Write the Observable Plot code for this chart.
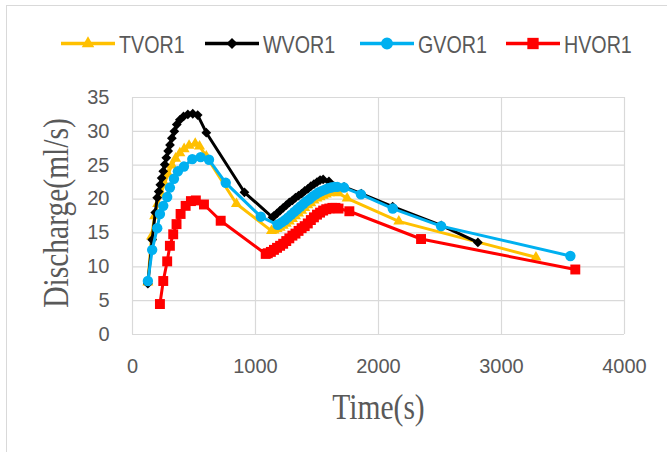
<!DOCTYPE html>
<html><head><meta charset="utf-8">
<script src="https://cdn.jsdelivr.net/npm/d3@7"></script>
<script src="https://cdn.jsdelivr.net/npm/@observablehq/plot@0.6"></script>
<style>
body{margin:0;background:#fff;}
#wrap{position:relative;width:667px;height:452px;overflow:hidden;background:#fff;}
#chart{position:absolute;left:0;top:0;}
#frame{position:absolute;left:6px;top:5px;width:700px;height:500px;border-left:1px solid #d9d9d9;border-top:1px solid #d9d9d9;pointer-events:none;}
#legend{position:absolute;left:0;top:0;}
</style></head><body>
<div id="wrap"><div id="chart"></div><div id="frame"></div><svg id="legend" width="667" height="80"></svg></div>
<script>
// ---- data ----
const seriesNames = ["TVOR1", "WVOR1", "GVOR1", "HVOR1"];
const seriesColors = ["#FFC000", "#000000", "#00B0F0", "#FF0000"];
const seriesSymbols = ["triangle", "diamond2", "circle", "square"];
const xTicks = [0, 1000, 2000, 3000, 4000];
const yTicks = [0, 5, 10, 15, 20, 25, 30, 35];
const xTitle = "Time(s)";
const yTitle = "Discharge(ml/s)";

const tvorTime = [125, 155, 180, 205, 232, 260, 290, 320, 350, 385, 420, 460, 510, 545, 600, 845, 1130, 1150, 1175, 1200, 1225, 1250, 1275, 1300, 1325, 1350, 1375, 1400, 1425, 1450, 1475, 1500, 1525, 1550, 1575, 1600, 1625, 1650, 1675, 1745, 2165, 3280];
const tvorQ = [7.7, 14.5, 17.5, 19.3, 20.8, 22.3, 23.7, 25.0, 26.0, 26.8, 27.4, 27.9, 28.2, 27.8, 26.3, 19.3, 15.3, 15.4, 15.6, 15.8, 16.1, 16.4, 16.7, 17.1, 17.5, 17.9, 18.3, 18.7, 19.1, 19.4, 19.8, 20.1, 20.3, 20.5, 20.7, 20.9, 21.0, 21.0, 20.9, 20.1, 16.7, 11.4];

const wvorTime = [125, 160, 185, 201, 213, 226, 237, 250, 262, 275, 290, 305, 320, 340, 360, 385, 415, 450, 490, 530, 600, 910, 1138, 1150, 1175, 1200, 1225, 1250, 1275, 1300, 1325, 1350, 1375, 1400, 1425, 1450, 1475, 1500, 1525, 1550, 1597, 1720, 1860, 2115, 2510, 2808];
const wvorQ = [7.5, 14.0, 18.0, 20.2, 21.1, 22.1, 23.1, 24.1, 25.1, 26.1, 27.1, 28.0, 29.0, 30.0, 31.0, 31.7, 32.2, 32.5, 32.6, 32.4, 29.8, 21.0, 17.3, 17.5, 17.9, 18.3, 18.7, 19.1, 19.5, 19.8, 20.2, 20.5, 20.8, 21.2, 21.5, 21.9, 22.2, 22.5, 22.8, 22.9, 22.6, 21.8, 20.8, 18.9, 16.1, 13.6];

const gvorTime = [125, 160, 201, 223, 250, 282, 304, 337, 369, 418, 486, 554, 622, 758, 1043, 1179, 1190, 1215, 1240, 1265, 1290, 1315, 1340, 1365, 1390, 1415, 1440, 1465, 1490, 1515, 1540, 1565, 1590, 1615, 1640, 1665, 1720, 1857, 2116, 2509, 3560];
const gvorQ = [7.9, 12.5, 15.7, 17.8, 19.0, 20.3, 21.7, 23.0, 24.1, 24.8, 25.9, 26.2, 25.8, 22.4, 17.4, 16.2, 16.3, 16.6, 16.9, 17.3, 17.7, 18.1, 18.5, 18.9, 19.3, 19.7, 20.0, 20.4, 20.7, 21.0, 21.2, 21.4, 21.6, 21.7, 21.8, 21.8, 21.7, 20.7, 18.6, 16.0, 11.6];

const hvorTime = [223, 250, 282, 304, 331, 358, 391, 432, 475, 515, 581, 717, 1083, 1100, 1125, 1150, 1175, 1200, 1225, 1250, 1275, 1300, 1325, 1350, 1375, 1400, 1425, 1450, 1475, 1500, 1525, 1550, 1575, 1600, 1625, 1650, 1675, 1763, 2346, 3600];
const hvorQ = [4.5, 7.9, 10.8, 13.1, 14.8, 16.3, 17.8, 19.0, 19.7, 19.8, 19.2, 16.8, 11.9, 12.0, 12.2, 12.5, 12.8, 13.1, 13.4, 13.8, 14.2, 14.6, 14.9, 15.3, 15.7, 16.0, 16.4, 16.9, 17.3, 17.7, 18.0, 18.3, 18.5, 18.6, 18.7, 18.7, 18.6, 18.2, 14.1, 9.6];

const seriesTimes = [tvorTime, wvorTime, gvorTime, hvorTime];
const seriesValues = [tvorQ, wvorQ, gvorQ, hvorQ];

// ---- styling / layout ----
const symbolR = [4.1, 4.4, 5.2, 5.6];
const lineWidth = 3;
const textGray = "#595959";
const gridGray = "#d9d9d9";
const legendX = [61, 205, 360, 506];
const legendLineLen = 54;
const legendY = 43.5;
const narrow = 0.82;   // condensed look of the original fonts
const titleSize = 36;

const rows = seriesNames.map((name, i) =>
  seriesTimes[i].map((t, j) => ({series: name, time: t, q: seriesValues[i][j]}))
);

const seriesMarks = [];
rows.forEach((data, i) => {
  seriesMarks.push(Plot.line(data, {x: "time", y: "q", stroke: seriesColors[i], strokeWidth: lineWidth, strokeLinejoin: "round"}));
  seriesMarks.push(Plot.dot(data, {x: "time", y: "q", symbol: seriesSymbols[i], fill: seriesColors[i], stroke: "none", r: symbolR[i]}));
});

const chart = Plot.plot({
  width: 667, height: 452,
  marginTop: 97, marginBottom: 118, marginLeft: 132, marginRight: 43,
  x: {domain: [0, 4000]},
  y: {domain: [0, 35]},
  style: {fontFamily: "'Liberation Sans', sans-serif", fontSize: "20px", color: textGray, background: "transparent", overflow: "visible"},
  marks: [
    Plot.gridY(yTicks, {stroke: gridGray, strokeOpacity: 1, strokeWidth: 1.2}),
    Plot.gridX(xTicks, {stroke: gridGray, strokeOpacity: 1, strokeWidth: 1.2}),
    Plot.axisY(yTicks, {tickSize: 0, tickPadding: 23, label: null, fill: textGray, tickFormat: d => String(d)}),
    Plot.axisX(xTicks, {tickSize: 0, tickPadding: 24, label: null, fill: textGray, tickFormat: d => String(d)}),
    Plot.text([yTitle], {frameAnchor: "left", textAnchor: "middle", lineAnchor: "middle", rotate: -90, dx: -76.5, dy: -3, fontSize: titleSize, fontFamily: "'Liberation Serif', serif", fill: textGray}),
    Plot.text([xTitle], {frameAnchor: "bottom", textAnchor: "middle", lineAnchor: "middle", dx: 0, dy: 73, fontSize: titleSize, fontFamily: "'Liberation Serif', serif", fill: textGray}),
    ...seriesMarks
  ]
});
document.getElementById("chart").appendChild(chart);

// condense the serif titles to the proportions of the original
d3.select(chart).selectAll("text").each(function() {
  const t = this.textContent;
  if (t === xTitle || t === yTitle) {
    const w = this.getComputedTextLength();
    d3.select(this).attr("textLength", w * narrow).attr("lengthAdjust", "spacingAndGlyphs");
  }
});

// ---- legend ----
const leg = d3.select("#legend");
const symMap = {triangle: d3.symbolTriangle, diamond2: d3.symbolDiamond2, circle: d3.symbolCircle, square: d3.symbolSquare};
seriesNames.forEach((name, i) => {
  const x0 = legendX[i];
  leg.append("line").attr("x1", x0).attr("x2", x0 + legendLineLen).attr("y1", legendY).attr("y2", legendY)
    .attr("stroke", seriesColors[i]).attr("stroke-width", 3.5);
  leg.append("path").attr("d", d3.symbol(symMap[seriesSymbols[i]], Math.PI * symbolR[i] * symbolR[i] * 1.3)())
    .attr("transform", `translate(${x0 + legendLineLen / 2},${legendY})`).attr("fill", seriesColors[i]);
  const txt = leg.append("text").attr("x", x0 + legendLineLen + 4).attr("y", legendY + 9)
    .attr("font-family", "'Liberation Sans', sans-serif").attr("font-size", 24)
    .attr("fill", textGray).text(name);
  const w = txt.node().getComputedTextLength();
  txt.attr("textLength", w * narrow).attr("lengthAdjust", "spacingAndGlyphs");
});
</script>
</body></html>
